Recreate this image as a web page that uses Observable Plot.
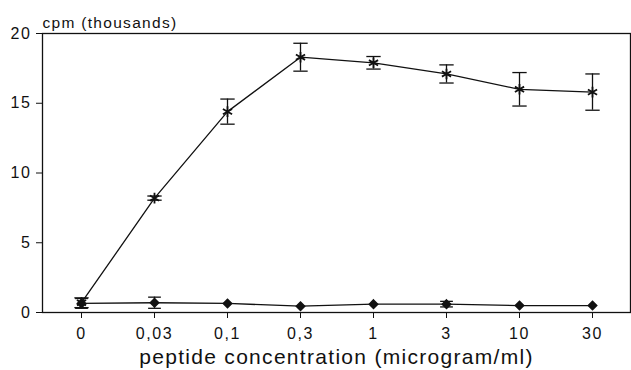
<!DOCTYPE html>
<html>
<head>
<meta charset="utf-8">
<script src="https://cdn.jsdelivr.net/npm/d3@7"></script>
<script src="https://cdn.jsdelivr.net/npm/@observablehq/plot@0.6"></script>
<style>
  html, body { margin: 0; padding: 0; background: #fff; }
  svg { font-family: "Liberation Sans", Arial, sans-serif; }
  g[aria-label="x-axis tick label"] text, g[aria-label="y-axis tick label"] text { letter-spacing: 1.6px; }
  g[aria-label="text"] text { letter-spacing: 1.3px; }
</style>
</head>
<body>
<div id="chart"></div>
<script>
const concLabels = ["0", "0,03", "0,1", "0,3", "1", "3", "10", "30"];
const stimValues = [0.7, 8.2, 14.4, 18.3, 17.9, 17.1, 16.0, 15.8];
const stimErrors = [0.35, 0.15, 0.9, 1.0, 0.45, 0.65, 1.2, 1.3];
const ctrlValues = [0.65, 0.7, 0.65, 0.45, 0.6, 0.6, 0.5, 0.5];
const ctrlErrors = [0.35, 0.4, 0.1, 0.0, 0.1, 0.2, 0.05, 0.05];
const yTicks = [0, 5, 10, 15, 20];

const stim = concLabels.map((c, i) => ({c, v: stimValues[i], lo: stimValues[i] - stimErrors[i], hi: stimValues[i] + stimErrors[i]}));
const ctrl = concLabels.map((c, i) => ({c, v: ctrlValues[i], lo: ctrlValues[i] - ctrlErrors[i], hi: ctrlValues[i] + ctrlErrors[i]}));
const ctrlBars = ctrl.filter(d => d.hi - d.lo > 0.25);

// horizontal cap symbol for error bars
const capSymbol = {
  draw(context, size) {
    const w = Math.sqrt(size) * 0.9;
    context.moveTo(-w, 0);
    context.lineTo(w, 0);
  }
};

const chart = Plot.plot({
  width: 631,
  height: 370,
  marginLeft: 42,
  marginRight: 1,
  marginTop: 33,
  marginBottom: 58,
  style: {fontSize: "16px", color: "#111", background: "#fff"},
  x: {type: "point", domain: concLabels, padding: 0.5, label: null},
  y: {domain: [0, 20], label: null},
  marks: [
    Plot.frame({stroke: "#111", strokeWidth: 1.3}),
    Plot.axisY({ticks: yTicks, tickSize: 6, tickPadding: 5, label: null, fontSize: 16}),
    Plot.axisX({tickSize: 6, tickPadding: 9, label: null, fontSize: 16}),
    Plot.text(["cpm (thousands)"], {frameAnchor: "top-left", textAnchor: "start", dy: -17, fontSize: 15.5}),
    Plot.text(["peptide concentration (microgram/ml)"], {frameAnchor: "bottom", dy: 51, fontSize: 21}),
    Plot.line(ctrl, {x: "c", y: "v", stroke: "#111", strokeWidth: 1.3}),
    Plot.ruleX(ctrlBars, {x: "c", y1: "lo", y2: "hi", stroke: "#111", strokeWidth: 1.3}),
    Plot.dot(ctrlBars, {x: "c", y: "lo", symbol: capSymbol, r: 4, stroke: "#111", strokeWidth: 1.3}),
    Plot.dot(ctrlBars, {x: "c", y: "hi", symbol: capSymbol, r: 4, stroke: "#111", strokeWidth: 1.3}),
    Plot.dot(ctrl, {x: "c", y: "v", symbol: "diamond2", r: 3.8, fill: "#111", stroke: "#111"}),
    Plot.line(stim, {x: "c", y: "v", stroke: "#111", strokeWidth: 1.3}),
    Plot.ruleX(stim, {x: "c", y1: "lo", y2: "hi", stroke: "#111", strokeWidth: 1.3}),
    Plot.dot(stim, {x: "c", y: "lo", symbol: capSymbol, r: 4.5, stroke: "#111", strokeWidth: 1.3}),
    Plot.dot(stim, {x: "c", y: "hi", symbol: capSymbol, r: 4.5, stroke: "#111", strokeWidth: 1.3}),
    Plot.dot(stim, {x: "c", y: "v", symbol: "asterisk", r: 5, stroke: "#111", strokeWidth: 1.8})
  ]
});
document.getElementById("chart").appendChild(chart);
</script>
</body>
</html>
